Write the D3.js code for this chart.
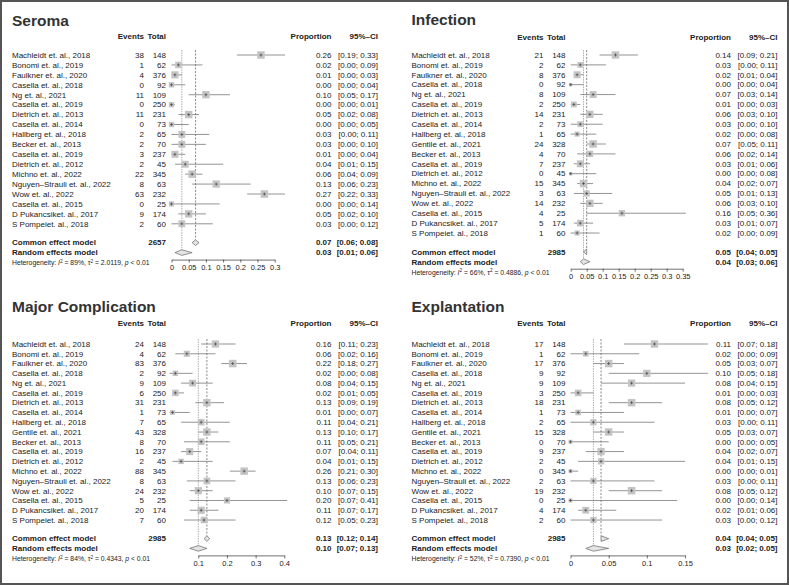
<!DOCTYPE html>
<html>
<head>
<meta charset="utf-8">
<script src="https://cdn.jsdelivr.net/npm/d3@7"></script>
<style>
  body { margin: 0; background: #fff; }
  svg { display: block; font-family: "Liberation Sans", Arial, Helvetica, sans-serif; }
</style>
</head>
<body>
<svg id="chart" width="789" height="585"></svg>
<script>
// ---- data ----
const studies = ["Machleidt et. al., 2018", "Bonomi et. al., 2019", "Faulkner et. al., 2020", "Casella et. al., 2018",
  "Ng et. al., 2021", "Casella et. al., 2019", "Dietrich et. al., 2013", "Casella et. al., 2014", "Hallberg et. al., 2018",
  "Gentile et. al., 2021", "Becker et. al., 2013", "Casella et. al., 2019", "Dietrich et. al., 2012", "Michno et. al., 2022",
  "Nguyen\u2013Strauli et. al., 2022", "Wow et. al., 2022", "Casella et. al., 2015", "D Pukancsiket. al., 2017", "S Pompeiet. al., 2018"]
const totals = [148, 62, 376, 92, 109, 250, 231, 73, 65, 328, 70, 237, 45, 345, 63, 232, 25, 174, 60]

// seroma has no Gentile row
const seromaStudies = studies.filter((d, i) => i != 9)
const seromaTotals = totals.filter((d, i) => i != 9)
const seromaEvents = [38, 1, 4, 0, 11, 0, 11, 0, 2, 2, 3, 2, 22, 8, 63, 0, 9, 2]
const seromaProp  = [0.26, 0.02, 0.01, 0.00, 0.10, 0.00, 0.05, 0.00, 0.03, 0.03, 0.01, 0.04, 0.06, 0.13, 0.27, 0.00, 0.05, 0.03]
const seromaLower = [0.19, 0.00, 0.00, 0.00, 0.05, 0.00, 0.02, 0.00, 0.00, 0.00, 0.00, 0.01, 0.04, 0.06, 0.22, 0.00, 0.02, 0.00]
const seromaUpper = [0.33, 0.09, 0.03, 0.04, 0.17, 0.01, 0.08, 0.05, 0.11, 0.10, 0.04, 0.15, 0.09, 0.23, 0.33, 0.14, 0.10, 0.12]
const seromaCommon = [0.07, 0.06, 0.08]
const seromaRandom = [0.03, 0.01, 0.06]
const seromaHet = [89, 2.0119]   // I^2 %, tau^2
const seromaTicks = [0, 0.05, 0.1, 0.15, 0.2, 0.25, 0.3]

const infectionEvents = [21, 2, 8, 0, 8, 2, 14, 2, 1, 24, 4, 7, 0, 15, 3, 14, 4, 5, 1]
const infectionProp  = [0.14, 0.03, 0.02, 0.00, 0.07, 0.01, 0.06, 0.03, 0.02, 0.07, 0.06, 0.03, 0.00, 0.04, 0.05, 0.06, 0.16, 0.03, 0.02]
const infectionLower = [0.09, 0.00, 0.01, 0.00, 0.03, 0.00, 0.03, 0.00, 0.00, 0.05, 0.02, 0.01, 0.00, 0.02, 0.01, 0.03, 0.05, 0.01, 0.00]
const infectionUpper = [0.21, 0.11, 0.04, 0.04, 0.14, 0.03, 0.10, 0.10, 0.08, 0.11, 0.14, 0.06, 0.08, 0.07, 0.13, 0.10, 0.36, 0.07, 0.09]
const infectionCommon = [0.05, 0.04, 0.05]
const infectionRandom = [0.04, 0.03, 0.06]
const infectionHet = [66, 0.4886]
const infectionTicks = [0, 0.05, 0.1, 0.15, 0.2, 0.25, 0.3, 0.35]

const majorEvents = [24, 4, 83, 2, 9, 6, 31, 1, 7, 43, 8, 16, 2, 88, 8, 24, 5, 20, 7]
const majorProp  = [0.16, 0.06, 0.22, 0.02, 0.08, 0.02, 0.13, 0.01, 0.11, 0.13, 0.11, 0.07, 0.04, 0.26, 0.13, 0.10, 0.20, 0.11, 0.12]
const majorLower = [0.11, 0.02, 0.18, 0.00, 0.04, 0.01, 0.09, 0.00, 0.04, 0.10, 0.05, 0.04, 0.01, 0.21, 0.06, 0.07, 0.07, 0.07, 0.05]
const majorUpper = [0.23, 0.16, 0.27, 0.08, 0.15, 0.05, 0.19, 0.07, 0.21, 0.17, 0.21, 0.11, 0.15, 0.30, 0.23, 0.15, 0.41, 0.17, 0.23]
const majorCommon = [0.13, 0.12, 0.14]
const majorRandom = [0.10, 0.07, 0.13]
const majorHet = [84, 0.4343]
const majorTicks = [0.1, 0.2, 0.3, 0.4]

const explantEvents = [17, 1, 17, 9, 9, 3, 18, 1, 2, 15, 0, 9, 2, 0, 2, 19, 0, 4, 2]
const explantProp  = [0.11, 0.02, 0.05, 0.10, 0.08, 0.01, 0.08, 0.01, 0.03, 0.05, 0.00, 0.04, 0.04, 0.00, 0.03, 0.08, 0.00, 0.02, 0.03]
const explantLower = [0.07, 0.00, 0.03, 0.05, 0.04, 0.00, 0.05, 0.00, 0.00, 0.03, 0.00, 0.02, 0.01, 0.00, 0.00, 0.05, 0.00, 0.01, 0.00]
const explantUpper = [0.18, 0.09, 0.07, 0.18, 0.15, 0.03, 0.12, 0.07, 0.11, 0.07, 0.05, 0.07, 0.15, 0.01, 0.11, 0.12, 0.14, 0.06, 0.12]
const explantCommon = [0.04, 0.04, 0.05]
const explantRandom = [0.03, 0.02, 0.05]
const explantHet = [52, 0.7390]
const explantTicks = [0, 0.05, 0.1, 0.15]

const svg = d3.select("#chart")
const fmt2 = d3.format(".2f")
const ink = "#222"

svg.append("rect").attr("x", 1).attr("y", 1).attr("width", 787).attr("height", 583)
  .attr("fill", "none").attr("stroke", "#555").attr("stroke-width", 2)

function drawPanel(p) {
  const g = svg.append("g")
  const L = p.left
  const n = p.studies.length
  const rowY = i => p.row0 + i * p.step
  const commonY = rowY(n - 1) + 1.9 * p.step
  const randomY = commonY + p.step
  const axisY = randomY + 7
  const x = d3.scaleLinear().domain(d3.extent(p.ticks)).range(p.range)

  g.append("text").attr("x", L).attr("y", p.titleY).attr("dy", "0.35em")
    .attr("font-size", 15.5).attr("font-weight", "bold").attr("fill", "#333").text(p.title)

  const head = [["Events", 132], ["Total", 154], ["Proportion", 319.5], ["95%\u2013CI", 366]]
  g.selectAll(".head").data(head).enter().append("text")
    .attr("x", d => L + d[1]).attr("y", p.headY).attr("dy", "0.35em")
    .attr("text-anchor", "end").attr("font-size", 8).attr("font-weight", "bold").attr("fill", ink)
    .text(d => d[0])

  // table text
  const rows = p.studies.map((s, i) => ({s, i, e: p.events[i], t: p.totals[i], pr: p.prop[i], lo: p.lower[i], hi: p.upper[i]}))
  const rowG = g.selectAll(".row").data(rows).enter().append("g")
    .attr("transform", d => `translate(0,${rowY(d.i)})`)
    .attr("font-size", 8).attr("fill", ink)
  rowG.append("text").attr("x", L).attr("dy", "0.35em").text(d => d.s)
  rowG.append("text").attr("x", L + 132).attr("dy", "0.35em").attr("text-anchor", "end").text(d => d.e)
  rowG.append("text").attr("x", L + 154).attr("dy", "0.35em").attr("text-anchor", "end").text(d => d.t)
  rowG.append("text").attr("x", L + 319.5).attr("dy", "0.35em").attr("text-anchor", "end").text(d => fmt2(d.pr))
  rowG.append("text").attr("x", L + 366).attr("dy", "0.35em").attr("text-anchor", "end")
    .text(d => `[${fmt2(d.lo)}; ${fmt2(d.hi)}]`)

  // pooled rows
  const pooled = [["Common effect model", p.common, commonY], ["Random effects model", p.random, randomY]]
  pooled.forEach(([lab, est, y], k) => {
    const t = g.append("g").attr("transform", `translate(0,${y})`).attr("font-size", 8)
      .attr("font-weight", "bold").attr("fill", ink)
    t.append("text").attr("x", L).attr("dy", "0.35em").text(lab)
    if (k == 0) t.append("text").attr("x", L + 154).attr("dy", "0.35em").attr("text-anchor", "end").text(d3.sum(p.totals))
    t.append("text").attr("x", L + 319.5).attr("dy", "0.35em").attr("text-anchor", "end").text(fmt2(est[0]))
    t.append("text").attr("x", L + 366).attr("dy", "0.35em").attr("text-anchor", "end")
      .text(`[${fmt2(est[1])}; ${fmt2(est[2])}]`)
  })

  // reference lines for pooled estimates
  g.append("line").attr("x1", x(p.common[0])).attr("x2", x(p.common[0]))
    .attr("y1", p.row0 - 5).attr("y2", commonY - 3)
    .attr("stroke", "#555").attr("stroke-width", 0.7).attr("stroke-dasharray", "2,1.5")
  g.append("line").attr("x1", x(p.random[0])).attr("x2", x(p.random[0]))
    .attr("y1", p.row0 - 5).attr("y2", randomY - 3)
    .attr("stroke", "#555").attr("stroke-width", 0.7).attr("stroke-dasharray", "0.7,1")

  // study squares sized by random-effects weight
  const w = rows.map(d => 1 / (1 / (d.e + 0.5) + 1 / (d.t - d.e + 0.5) + p.het[1]))
  const side = d3.scaleSqrt().domain([0, d3.max(w)]).range([0, 7.5])
  rows.forEach((d, i) => { d.size = side(w[i]) })

  const mk = g.selectAll(".mk").data(rows).enter().append("g")
    .attr("transform", d => `translate(0,${rowY(d.i)})`)
  mk.append("line").attr("x1", d => x(d.lo)).attr("x2", d => x(d.hi))
    .attr("stroke", "#666").attr("stroke-width", 0.7)
  mk.append("rect").attr("x", d => x(d.pr) - d.size / 2).attr("y", d => -d.size / 2)
    .attr("width", d => d.size).attr("height", d => d.size).attr("fill", "#c4c4c4")
  mk.append("path").attr("d", d => `M${x(d.pr) - 1.5},0H${x(d.pr) + 1.5}M${x(d.pr)},-1.5V1.5`)
    .attr("stroke", "#333").attr("stroke-width", 0.6)

  // diamonds
  pooled.forEach(([lab, est, y]) => {
    g.append("path")
      .attr("d", `M${x(est[1])},${y}L${x(est[0])},${y - 2.8}L${x(est[2])},${y}L${x(est[0])},${y + 2.8}Z`)
      .attr("fill", "#e4e4e4").attr("stroke", "#666").attr("stroke-width", 0.7)
  })

  // axis
  const ax = g.append("g").attr("transform", `translate(0,${axisY})`)
    .call(d3.axisBottom(x).tickValues(p.ticks).tickSize(3).tickSizeOuter(0).tickPadding(2).tickFormat(d3.format("")))
  ax.select(".domain").attr("stroke", "#333").attr("stroke-width", 0.7)
  ax.selectAll(".tick line").attr("stroke", "#333").attr("stroke-width", 0.7)
  ax.selectAll(".tick text").attr("font-size", 7.5).attr("fill", ink)
    .attr("font-family", "Liberation Sans, Arial, sans-serif")

  // heterogeneity
  const het = g.append("text").attr("x", L).attr("y", randomY + 10.5).attr("dy", "0.35em")
    .attr("font-size", 6.8).attr("fill", ink)
  het.append("tspan").text("Heterogeneity: ")
  het.append("tspan").attr("font-style", "italic").text("I")
  het.append("tspan").attr("font-size", 4.7).attr("dy", -2.5).text("2")
  het.append("tspan").attr("dy", 2.5).text(` = ${p.het[0]}%, \u03c4`)
  het.append("tspan").attr("font-size", 4.7).attr("dy", -2.5).text("2")
  het.append("tspan").attr("dy", 2.5).text(` = ${d3.format(".4f")(p.het[1])}, `)
  het.append("tspan").attr("font-style", "italic").text("p")
  het.append("tspan").text(" < 0.01")
}

drawPanel({title: "Seroma", studies: seromaStudies, events: seromaEvents, totals: seromaTotals,
  prop: seromaProp, lower: seromaLower, upper: seromaUpper, common: seromaCommon, random: seromaRandom,
  het: seromaHet, ticks: seromaTicks,
  left: 12, titleY: 21, headY: 36.5, row0: 55, step: 9.93, range: [171.5, 274.7]})

drawPanel({title: "Infection", studies: studies, events: infectionEvents, totals: totals,
  prop: infectionProp, lower: infectionLower, upper: infectionUpper, common: infectionCommon, random: infectionRandom,
  het: infectionHet, ticks: infectionTicks,
  left: 411.5, titleY: 19.5, headY: 37, row0: 55, step: 9.89, range: [570.7, 682.7]})

drawPanel({title: "Major Complication", studies: studies, events: majorEvents, totals: totals,
  prop: majorProp, lower: majorLower, upper: majorUpper, common: majorCommon, random: majorRandom,
  het: majorHet, ticks: majorTicks,
  left: 12, titleY: 307, headY: 323.5, row0: 344, step: 9.78, range: [198.3, 284.3]})

drawPanel({title: "Explantation", studies: studies, events: explantEvents, totals: totals,
  prop: explantProp, lower: explantLower, upper: explantUpper, common: explantCommon, random: explantRandom,
  het: explantHet, ticks: explantTicks,
  left: 411.5, titleY: 307, headY: 323.5, row0: 344, step: 9.78, range: [570.5, 685]})
</script>
</body>
</html>
